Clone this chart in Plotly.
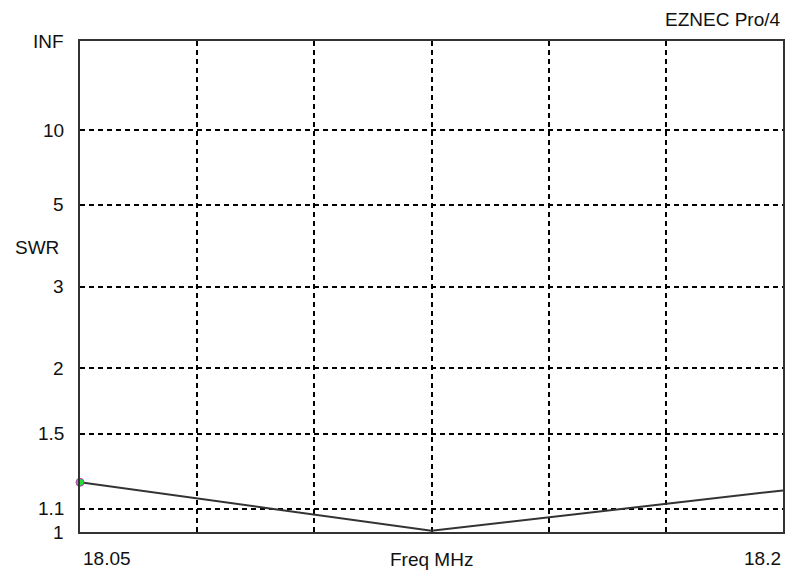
import plotly.graph_objects as go

# SWR sweep data
freq_mhz = [18.05, 18.125, 18.2]
swr = [1.225, 1.005, 1.185]

# SWR grid/tick values on the reflection-coefficient scale
swr_ticks = [1.1, 1.5, 2, 3, 5, 10]
y_labels = ["1", "1.1", "1.5", "2", "3", "5", "10", "INF"]
y_label_swr = [1, 1.1, 1.5, 2, 3, 5, 10, None]  # None -> infinite SWR
x_grid = [18.075, 18.1, 18.125, 18.15, 18.175]


def gamma(s):
    """Map SWR to |reflection coefficient| (EZNEC vertical scale)."""
    if s is None:
        return 1.0
    return (s - 1.0) / (s + 1.0)


FONT = "Liberation Sans, Arial, sans-serif"
TXT = "#111111"

fig = go.Figure()
fig.add_trace(go.Scatter(
    x=freq_mhz,
    y=[gamma(s) for s in swr],
    mode="lines",
    line=dict(color="#333333", width=2),
    hoverinfo="skip",
    showlegend=False,
))
# cursor marker at the start frequency
fig.add_trace(go.Scatter(
    x=[freq_mhz[0]],
    y=[gamma(swr[0])],
    mode="markers",
    marker=dict(color="#22dd33", size=8, symbol="circle",
                line=dict(color="#cc33cc", width=1)),
    cliponaxis=False,
    showlegend=False,
))

fig.update_xaxes(
    range=[freq_mhz[0], freq_mhz[-1]],
    tickvals=x_grid,
    showticklabels=False,
    ticks="",
    showgrid=True,
    gridcolor="#000000",
    gridwidth=1.5,
    griddash="5px,4px",
    zeroline=False,
    showline=True,
    mirror=True,
    linecolor="#333333",
    linewidth=2,
)
fig.update_yaxes(
    range=[0, 1],
    tickvals=[gamma(s) for s in swr_ticks],
    showticklabels=False,
    ticks="",
    showgrid=True,
    gridcolor="#000000",
    gridwidth=1.5,
    griddash="5px,4px",
    zeroline=False,
    showline=True,
    mirror=True,
    linecolor="#333333",
    linewidth=2,
)

ann = []
for lab, s in zip(y_labels, y_label_swr):
    ann.append(dict(
        text=lab, x=0, xref="paper", xanchor="right", xshift=-14,
        y=gamma(s), yref="y", yanchor="middle",
        showarrow=False, font=dict(family=FONT, size=19, color=TXT),
    ))
ann.append(dict(
    text="SWR", x=0, xref="paper", xanchor="left", xshift=-67,
    y=0.580, yref="paper", yanchor="middle",
    showarrow=False, font=dict(family=FONT, size=19, color=TXT),
))
ann.append(dict(
    text="18.05", x=freq_mhz[0], xref="x", xanchor="left", xshift=1,
    y=-0.053, yref="paper", yanchor="middle",
    showarrow=False, font=dict(family=FONT, size=19, color=TXT),
))
ann.append(dict(
    text="18.2", x=freq_mhz[-1], xref="x", xanchor="right",
    y=-0.053, yref="paper", yanchor="middle",
    showarrow=False, font=dict(family=FONT, size=19, color=TXT),
))
ann.append(dict(
    text="Freq MHz", x=0.5, xref="paper", xanchor="center",
    y=-0.055, yref="paper", yanchor="middle",
    showarrow=False, font=dict(family=FONT, size=19, color=TXT),
))
ann.append(dict(
    text="EZNEC Pro/4", x=1, xref="paper", xanchor="right",
    y=1.0448, yref="paper", yanchor="middle",
    showarrow=False, font=dict(family=FONT, size=19, color=TXT),
))

fig.update_layout(
    width=788,
    height=570,
    margin=dict(l=80, r=3, t=41, b=38),
    paper_bgcolor="white",
    plot_bgcolor="white",
    annotations=ann,
    showlegend=False,
)

fig.write_html("out.html")
